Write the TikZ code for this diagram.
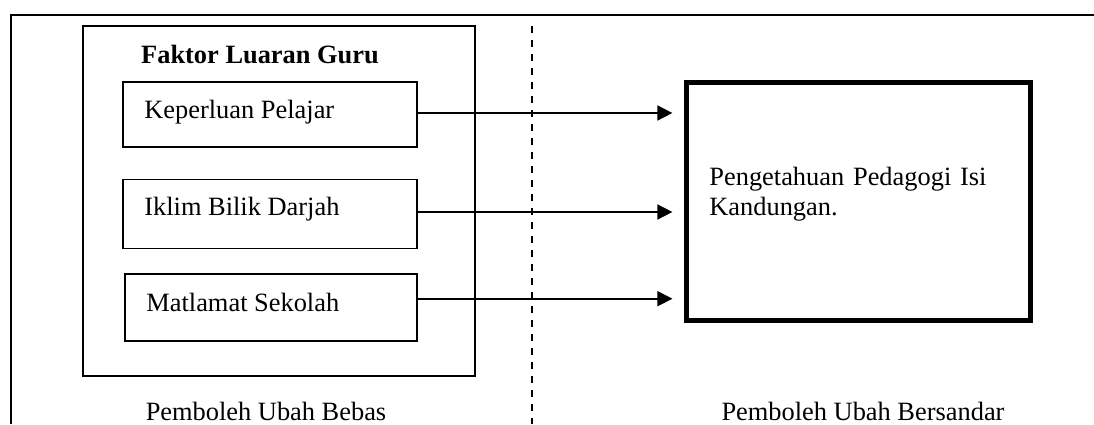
\documentclass[tikz,border=0pt]{standalone}
\usepackage{fontspec}
\setmainfont{Liberation Serif}
\usetikzlibrary{arrows.meta}
\begin{document}
\begin{tikzpicture}[x=0.5pt, y=-0.5pt,
		every node/.style={font=\fontsize{13.2}{15}\selectfont, inner sep=0pt},
		factorbox/.style={draw, line width=0.6pt, minimum width=147pt},
		arrowline/.style={line width=0.8pt, -{Triangle[length=7.5pt, width=7.5pt]}, shorten >=5.75pt}]
		\useasboundingbox (0, 0) rectangle (1094, 424);
		%frame
		\draw[line width=1.3pt] (11, 424) -- (11, 15) -- (1094, 15);
		\draw[line width=0.8pt, dash pattern=on 3.5pt off 3.5pt] (532, 26) -- (532, 424);
		%independent variables
		\node[draw, line width=0.7pt, minimum width=196pt, minimum height=175pt] (luaran) at (279, 201) {};
		\node[anchor=base, font=\fontsize{13.2}{15}\selectfont\bfseries] (judul) at (260, 63) {Faktor Luaran Guru};
		\node[factorbox, minimum height=32.5pt] (keperluan) at (270, 114.5) {};
		\node[factorbox, minimum height=34.5pt] (iklim) at (270, 214) {};
		\node[factorbox, minimum width=146pt, minimum height=33.5pt] (matlamat) at (271, 307.5) {};
		\node[anchor=base west] (tkeperluan) at (144, 118) {Keperluan Pelajar};
		\node[anchor=base west] (tiklim) at (144, 215) {Iklim Bilik Darjah};
		\node[anchor=base west] (tmatlamat) at (146, 311) {Matlamat Sekolah};
		%dependent variable
		\node[draw, line width=2.6pt, minimum width=172pt, minimum height=119pt] (pck) at (858.5, 201.5) {};
		\node[anchor=base west, text width=160pt, align=left] (tpck) at (709, 185) {Pengetahuan Pedagogi Isi\\Kandungan.};
		%arrows
		\foreach \nm/\dy in {keperluan/0.75, iklim/1, matlamat/4.4}
			\draw[arrowline] ([yshift=\dy pt]\nm.east) -- ([yshift=\dy pt]\nm.east -| pck.west);
		%captions
		\node[anchor=base] (bebas) at (266, 420) {Pemboleh Ubah Bebas};
		\node[anchor=base] (bersandar) at (863, 420) {Pemboleh Ubah Bersandar};
\end{tikzpicture}
\end{document}
